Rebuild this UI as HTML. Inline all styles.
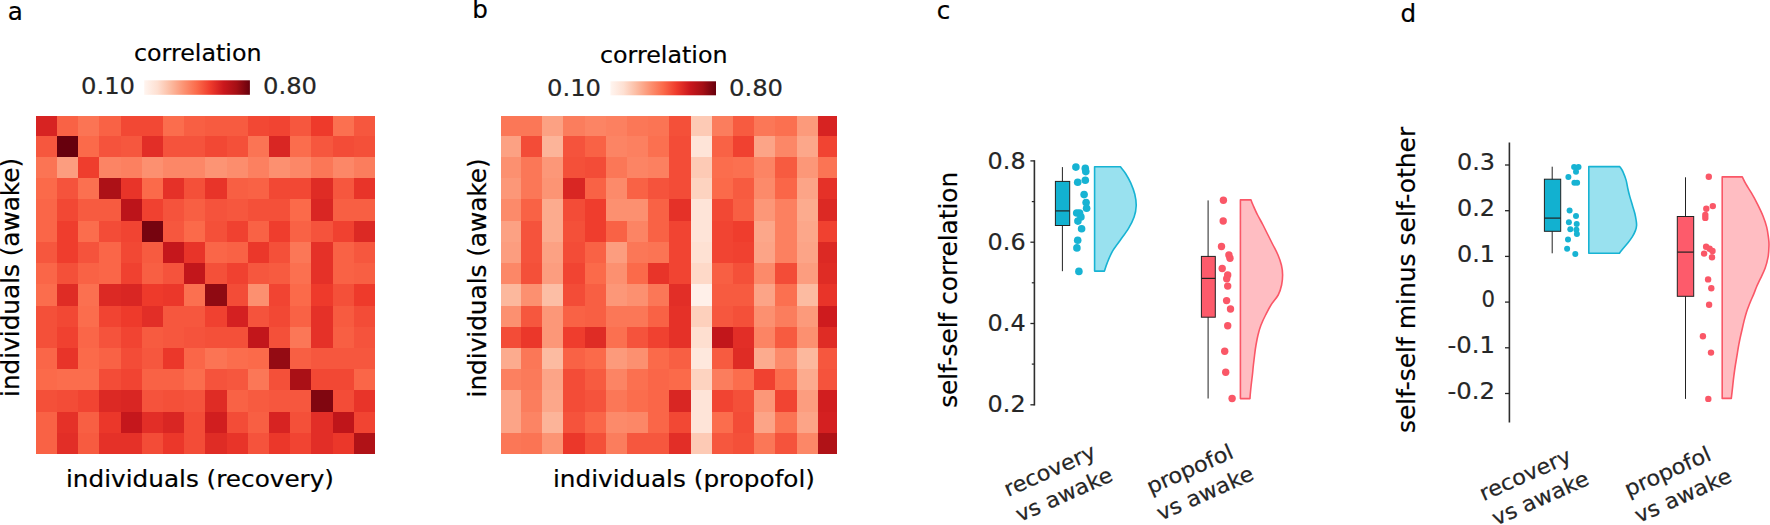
<!DOCTYPE html>
<html><head><meta charset="utf-8"><title>figure</title>
<style>html,body{margin:0;padding:0;background:#fff;overflow:hidden}svg{display:block}text{font-family:"DejaVu Sans","Liberation Sans",sans-serif}</style>
</head><body>
<svg width="1770" height="525" viewBox="0 0 1770 525">
<defs><linearGradient id="rg" x1="0" y1="0" x2="1" y2="0"><stop offset="0.0%" stop-color="#fff5f0"/><stop offset="12.5%" stop-color="#fee0d2"/><stop offset="25.0%" stop-color="#fcbba1"/><stop offset="37.5%" stop-color="#fc9272"/><stop offset="50.0%" stop-color="#fb6a4a"/><stop offset="62.5%" stop-color="#ef3b2c"/><stop offset="75.0%" stop-color="#cb181d"/><stop offset="87.5%" stop-color="#a50f15"/><stop offset="100.0%" stop-color="#67000d"/></linearGradient></defs>
<rect width="1770" height="525" fill="#fff"/>
<g shape-rendering="crispEdges"><rect x="36.00" y="116.00" width="21.30" height="20.11" fill="#d72322"/><rect x="57.00" y="116.00" width="21.50" height="20.11" fill="#f96245"/><rect x="78.20" y="116.00" width="21.50" height="20.11" fill="#fb7454"/><rect x="99.40" y="116.00" width="21.50" height="20.11" fill="#f96245"/><rect x="120.60" y="116.00" width="21.50" height="20.11" fill="#f24834"/><rect x="141.80" y="116.00" width="21.50" height="20.11" fill="#f24834"/><rect x="163.00" y="116.00" width="21.50" height="20.11" fill="#fb6d4d"/><rect x="184.20" y="116.00" width="21.50" height="20.11" fill="#f85f43"/><rect x="205.40" y="116.00" width="21.50" height="20.11" fill="#f75b40"/><rect x="226.60" y="116.00" width="21.50" height="20.11" fill="#f75b40"/><rect x="247.80" y="116.00" width="21.50" height="20.11" fill="#f24834"/><rect x="269.00" y="116.00" width="21.50" height="20.11" fill="#f14432"/><rect x="290.20" y="116.00" width="21.50" height="20.11" fill="#f6573e"/><rect x="311.40" y="116.00" width="21.50" height="20.11" fill="#ee3a2b"/><rect x="332.60" y="116.00" width="21.50" height="20.11" fill="#fb7050"/><rect x="353.80" y="116.00" width="21.20" height="20.11" fill="#f6573e"/><rect x="36.00" y="135.81" width="21.30" height="21.51" fill="#f6573e"/><rect x="57.00" y="135.81" width="21.50" height="21.51" fill="#67000d"/><rect x="78.20" y="135.81" width="21.50" height="21.51" fill="#fb6a4a"/><rect x="99.40" y="135.81" width="21.50" height="21.51" fill="#f5533c"/><rect x="120.60" y="135.81" width="21.50" height="21.51" fill="#f6573e"/><rect x="141.80" y="135.81" width="21.50" height="21.51" fill="#e22e27"/><rect x="163.00" y="135.81" width="21.50" height="21.51" fill="#f5533c"/><rect x="184.20" y="135.81" width="21.50" height="21.51" fill="#f5533c"/><rect x="205.40" y="135.81" width="21.50" height="21.51" fill="#f24834"/><rect x="226.60" y="135.81" width="21.50" height="21.51" fill="#f45039"/><rect x="247.80" y="135.81" width="21.50" height="21.51" fill="#fb7454"/><rect x="269.00" y="135.81" width="21.50" height="21.51" fill="#d92623"/><rect x="290.20" y="135.81" width="21.50" height="21.51" fill="#fb6d4d"/><rect x="311.40" y="135.81" width="21.50" height="21.51" fill="#f6573e"/><rect x="332.60" y="135.81" width="21.50" height="21.51" fill="#f34c37"/><rect x="353.80" y="135.81" width="21.20" height="21.51" fill="#f45039"/><rect x="36.00" y="157.02" width="21.30" height="21.51" fill="#fb7454"/><rect x="57.00" y="157.02" width="21.50" height="21.51" fill="#fc9d7f"/><rect x="78.20" y="157.02" width="21.50" height="21.51" fill="#ef3d2d"/><rect x="99.40" y="157.02" width="21.50" height="21.51" fill="#fc8464"/><rect x="120.60" y="157.02" width="21.50" height="21.51" fill="#fc8060"/><rect x="141.80" y="157.02" width="21.50" height="21.51" fill="#fc9070"/><rect x="163.00" y="157.02" width="21.50" height="21.51" fill="#fc8767"/><rect x="184.20" y="157.02" width="21.50" height="21.51" fill="#fc8767"/><rect x="205.40" y="157.02" width="21.50" height="21.51" fill="#fc9474"/><rect x="226.60" y="157.02" width="21.50" height="21.51" fill="#fc8d6d"/><rect x="247.80" y="157.02" width="21.50" height="21.51" fill="#fc8060"/><rect x="269.00" y="157.02" width="21.50" height="21.51" fill="#fc9070"/><rect x="290.20" y="157.02" width="21.50" height="21.51" fill="#fc8767"/><rect x="311.40" y="157.02" width="21.50" height="21.51" fill="#fb7757"/><rect x="332.60" y="157.02" width="21.50" height="21.51" fill="#fc8767"/><rect x="353.80" y="157.02" width="21.20" height="21.51" fill="#fb7d5d"/><rect x="36.00" y="178.24" width="21.30" height="21.51" fill="#fb6a4a"/><rect x="57.00" y="178.24" width="21.50" height="21.51" fill="#f5533c"/><rect x="78.20" y="178.24" width="21.50" height="21.51" fill="#fb7050"/><rect x="99.40" y="178.24" width="21.50" height="21.51" fill="#ad1117"/><rect x="120.60" y="178.24" width="21.50" height="21.51" fill="#e83429"/><rect x="141.80" y="178.24" width="21.50" height="21.51" fill="#fb6a4a"/><rect x="163.00" y="178.24" width="21.50" height="21.51" fill="#e53128"/><rect x="184.20" y="178.24" width="21.50" height="21.51" fill="#f45039"/><rect x="205.40" y="178.24" width="21.50" height="21.51" fill="#e83429"/><rect x="226.60" y="178.24" width="21.50" height="21.51" fill="#f85f43"/><rect x="247.80" y="178.24" width="21.50" height="21.51" fill="#f96245"/><rect x="269.00" y="178.24" width="21.50" height="21.51" fill="#f24834"/><rect x="290.20" y="178.24" width="21.50" height="21.51" fill="#f24834"/><rect x="311.40" y="178.24" width="21.50" height="21.51" fill="#df2c25"/><rect x="332.60" y="178.24" width="21.50" height="21.51" fill="#f6573e"/><rect x="353.80" y="178.24" width="21.20" height="21.51" fill="#e83429"/><rect x="36.00" y="199.45" width="21.30" height="21.51" fill="#fa6648"/><rect x="57.00" y="199.45" width="21.50" height="21.51" fill="#f24834"/><rect x="78.20" y="199.45" width="21.50" height="21.51" fill="#f75b40"/><rect x="99.40" y="199.45" width="21.50" height="21.51" fill="#f75b40"/><rect x="120.60" y="199.45" width="21.50" height="21.51" fill="#bc141a"/><rect x="141.80" y="199.45" width="21.50" height="21.51" fill="#f04130"/><rect x="163.00" y="199.45" width="21.50" height="21.51" fill="#f5533c"/><rect x="184.20" y="199.45" width="21.50" height="21.51" fill="#f85f43"/><rect x="205.40" y="199.45" width="21.50" height="21.51" fill="#f5533c"/><rect x="226.60" y="199.45" width="21.50" height="21.51" fill="#f6573e"/><rect x="247.80" y="199.45" width="21.50" height="21.51" fill="#f45039"/><rect x="269.00" y="199.45" width="21.50" height="21.51" fill="#f45039"/><rect x="290.20" y="199.45" width="21.50" height="21.51" fill="#fb6a4a"/><rect x="311.40" y="199.45" width="21.50" height="21.51" fill="#d92623"/><rect x="332.60" y="199.45" width="21.50" height="21.51" fill="#f85f43"/><rect x="353.80" y="199.45" width="21.20" height="21.51" fill="#f85f43"/><rect x="36.00" y="220.66" width="21.30" height="21.51" fill="#fa6648"/><rect x="57.00" y="220.66" width="21.50" height="21.51" fill="#ef3d2d"/><rect x="78.20" y="220.66" width="21.50" height="21.51" fill="#fb6d4d"/><rect x="99.40" y="220.66" width="21.50" height="21.51" fill="#f34c37"/><rect x="120.60" y="220.66" width="21.50" height="21.51" fill="#f14432"/><rect x="141.80" y="220.66" width="21.50" height="21.51" fill="#76040f"/><rect x="163.00" y="220.66" width="21.50" height="21.51" fill="#f6573e"/><rect x="184.20" y="220.66" width="21.50" height="21.51" fill="#fb6a4a"/><rect x="205.40" y="220.66" width="21.50" height="21.51" fill="#f45039"/><rect x="226.60" y="220.66" width="21.50" height="21.51" fill="#f04130"/><rect x="247.80" y="220.66" width="21.50" height="21.51" fill="#f96245"/><rect x="269.00" y="220.66" width="21.50" height="21.51" fill="#ef3d2d"/><rect x="290.20" y="220.66" width="21.50" height="21.51" fill="#f96245"/><rect x="311.40" y="220.66" width="21.50" height="21.51" fill="#f5533c"/><rect x="332.60" y="220.66" width="21.50" height="21.51" fill="#f04130"/><rect x="353.80" y="220.66" width="21.20" height="21.51" fill="#dc2924"/><rect x="36.00" y="241.88" width="21.30" height="21.51" fill="#f6573e"/><rect x="57.00" y="241.88" width="21.50" height="21.51" fill="#ef3d2d"/><rect x="78.20" y="241.88" width="21.50" height="21.51" fill="#f5533c"/><rect x="99.40" y="241.88" width="21.50" height="21.51" fill="#fa6648"/><rect x="120.60" y="241.88" width="21.50" height="21.51" fill="#f24834"/><rect x="141.80" y="241.88" width="21.50" height="21.51" fill="#f75b40"/><rect x="163.00" y="241.88" width="21.50" height="21.51" fill="#c5171c"/><rect x="184.20" y="241.88" width="21.50" height="21.51" fill="#e83429"/><rect x="205.40" y="241.88" width="21.50" height="21.51" fill="#fa6648"/><rect x="226.60" y="241.88" width="21.50" height="21.51" fill="#f96245"/><rect x="247.80" y="241.88" width="21.50" height="21.51" fill="#eb372a"/><rect x="269.00" y="241.88" width="21.50" height="21.51" fill="#f45039"/><rect x="290.20" y="241.88" width="21.50" height="21.51" fill="#fb7757"/><rect x="311.40" y="241.88" width="21.50" height="21.51" fill="#e53128"/><rect x="332.60" y="241.88" width="21.50" height="21.51" fill="#f96245"/><rect x="353.80" y="241.88" width="21.20" height="21.51" fill="#f6573e"/><rect x="36.00" y="263.09" width="21.30" height="21.51" fill="#fa6648"/><rect x="57.00" y="263.09" width="21.50" height="21.51" fill="#f45039"/><rect x="78.20" y="263.09" width="21.50" height="21.51" fill="#f96245"/><rect x="99.40" y="263.09" width="21.50" height="21.51" fill="#fa6648"/><rect x="120.60" y="263.09" width="21.50" height="21.51" fill="#f04130"/><rect x="141.80" y="263.09" width="21.50" height="21.51" fill="#f85f43"/><rect x="163.00" y="263.09" width="21.50" height="21.51" fill="#f5533c"/><rect x="184.20" y="263.09" width="21.50" height="21.51" fill="#c2161b"/><rect x="205.40" y="263.09" width="21.50" height="21.51" fill="#f45039"/><rect x="226.60" y="263.09" width="21.50" height="21.51" fill="#f04130"/><rect x="247.80" y="263.09" width="21.50" height="21.51" fill="#f6573e"/><rect x="269.00" y="263.09" width="21.50" height="21.51" fill="#f75b40"/><rect x="290.20" y="263.09" width="21.50" height="21.51" fill="#fb7050"/><rect x="311.40" y="263.09" width="21.50" height="21.51" fill="#e53128"/><rect x="332.60" y="263.09" width="21.50" height="21.51" fill="#f96245"/><rect x="353.80" y="263.09" width="21.20" height="21.51" fill="#f85f43"/><rect x="36.00" y="284.30" width="21.30" height="21.51" fill="#fb6d4d"/><rect x="57.00" y="284.30" width="21.50" height="21.51" fill="#df2c25"/><rect x="78.20" y="284.30" width="21.50" height="21.51" fill="#fb7050"/><rect x="99.40" y="284.30" width="21.50" height="21.51" fill="#dc2924"/><rect x="120.60" y="284.30" width="21.50" height="21.51" fill="#d92623"/><rect x="141.80" y="284.30" width="21.50" height="21.51" fill="#ee3a2b"/><rect x="163.00" y="284.30" width="21.50" height="21.51" fill="#eb372a"/><rect x="184.20" y="284.30" width="21.50" height="21.51" fill="#fb7050"/><rect x="205.40" y="284.30" width="21.50" height="21.51" fill="#8f0a12"/><rect x="226.60" y="284.30" width="21.50" height="21.51" fill="#f34c37"/><rect x="247.80" y="284.30" width="21.50" height="21.51" fill="#fc9070"/><rect x="269.00" y="284.30" width="21.50" height="21.51" fill="#f14432"/><rect x="290.20" y="284.30" width="21.50" height="21.51" fill="#fb6a4a"/><rect x="311.40" y="284.30" width="21.50" height="21.51" fill="#ee3a2b"/><rect x="332.60" y="284.30" width="21.50" height="21.51" fill="#f45039"/><rect x="353.80" y="284.30" width="21.20" height="21.51" fill="#ee3a2b"/><rect x="36.00" y="305.51" width="21.30" height="21.51" fill="#f45039"/><rect x="57.00" y="305.51" width="21.50" height="21.51" fill="#f24834"/><rect x="78.20" y="305.51" width="21.50" height="21.51" fill="#fb6d4d"/><rect x="99.40" y="305.51" width="21.50" height="21.51" fill="#f14432"/><rect x="120.60" y="305.51" width="21.50" height="21.51" fill="#ee3a2b"/><rect x="141.80" y="305.51" width="21.50" height="21.51" fill="#e22e27"/><rect x="163.00" y="305.51" width="21.50" height="21.51" fill="#f6573e"/><rect x="184.20" y="305.51" width="21.50" height="21.51" fill="#f6573e"/><rect x="205.40" y="305.51" width="21.50" height="21.51" fill="#f04130"/><rect x="226.60" y="305.51" width="21.50" height="21.51" fill="#d42021"/><rect x="247.80" y="305.51" width="21.50" height="21.51" fill="#f5533c"/><rect x="269.00" y="305.51" width="21.50" height="21.51" fill="#f24834"/><rect x="290.20" y="305.51" width="21.50" height="21.51" fill="#f96245"/><rect x="311.40" y="305.51" width="21.50" height="21.51" fill="#e53128"/><rect x="332.60" y="305.51" width="21.50" height="21.51" fill="#f75b40"/><rect x="353.80" y="305.51" width="21.20" height="21.51" fill="#f34c37"/><rect x="36.00" y="326.73" width="21.30" height="21.51" fill="#f45039"/><rect x="57.00" y="326.73" width="21.50" height="21.51" fill="#f04130"/><rect x="78.20" y="326.73" width="21.50" height="21.51" fill="#fa6648"/><rect x="99.40" y="326.73" width="21.50" height="21.51" fill="#f5533c"/><rect x="120.60" y="326.73" width="21.50" height="21.51" fill="#f14432"/><rect x="141.80" y="326.73" width="21.50" height="21.51" fill="#f75b40"/><rect x="163.00" y="326.73" width="21.50" height="21.51" fill="#f6573e"/><rect x="184.20" y="326.73" width="21.50" height="21.51" fill="#f5533c"/><rect x="205.40" y="326.73" width="21.50" height="21.51" fill="#f45039"/><rect x="226.60" y="326.73" width="21.50" height="21.51" fill="#f45039"/><rect x="247.80" y="326.73" width="21.50" height="21.51" fill="#c2161b"/><rect x="269.00" y="326.73" width="21.50" height="21.51" fill="#f45039"/><rect x="290.20" y="326.73" width="21.50" height="21.51" fill="#fb7757"/><rect x="311.40" y="326.73" width="21.50" height="21.51" fill="#e53128"/><rect x="332.60" y="326.73" width="21.50" height="21.51" fill="#f85f43"/><rect x="353.80" y="326.73" width="21.20" height="21.51" fill="#f5533c"/><rect x="36.00" y="347.94" width="21.30" height="21.51" fill="#fa6648"/><rect x="57.00" y="347.94" width="21.50" height="21.51" fill="#e83429"/><rect x="78.20" y="347.94" width="21.50" height="21.51" fill="#fb6a4a"/><rect x="99.40" y="347.94" width="21.50" height="21.51" fill="#f96245"/><rect x="120.60" y="347.94" width="21.50" height="21.51" fill="#f34c37"/><rect x="141.80" y="347.94" width="21.50" height="21.51" fill="#f6573e"/><rect x="163.00" y="347.94" width="21.50" height="21.51" fill="#eb372a"/><rect x="184.20" y="347.94" width="21.50" height="21.51" fill="#fa6648"/><rect x="205.40" y="347.94" width="21.50" height="21.51" fill="#fb7454"/><rect x="226.60" y="347.94" width="21.50" height="21.51" fill="#fb6d4d"/><rect x="247.80" y="347.94" width="21.50" height="21.51" fill="#fb6a4a"/><rect x="269.00" y="347.94" width="21.50" height="21.51" fill="#940b13"/><rect x="290.20" y="347.94" width="21.50" height="21.51" fill="#f85f43"/><rect x="311.40" y="347.94" width="21.50" height="21.51" fill="#f6573e"/><rect x="332.60" y="347.94" width="21.50" height="21.51" fill="#f6573e"/><rect x="353.80" y="347.94" width="21.20" height="21.51" fill="#f6573e"/><rect x="36.00" y="369.15" width="21.30" height="21.51" fill="#fb6a4a"/><rect x="57.00" y="369.15" width="21.50" height="21.51" fill="#fb6d4d"/><rect x="78.20" y="369.15" width="21.50" height="21.51" fill="#fb6d4d"/><rect x="99.40" y="369.15" width="21.50" height="21.51" fill="#f34c37"/><rect x="120.60" y="369.15" width="21.50" height="21.51" fill="#f14432"/><rect x="141.80" y="369.15" width="21.50" height="21.51" fill="#f96245"/><rect x="163.00" y="369.15" width="21.50" height="21.51" fill="#f96245"/><rect x="184.20" y="369.15" width="21.50" height="21.51" fill="#fb6d4d"/><rect x="205.40" y="369.15" width="21.50" height="21.51" fill="#f5533c"/><rect x="226.60" y="369.15" width="21.50" height="21.51" fill="#f6573e"/><rect x="247.80" y="369.15" width="21.50" height="21.51" fill="#fb7757"/><rect x="269.00" y="369.15" width="21.50" height="21.51" fill="#f45039"/><rect x="290.20" y="369.15" width="21.50" height="21.51" fill="#aa1016"/><rect x="311.40" y="369.15" width="21.50" height="21.51" fill="#f24834"/><rect x="332.60" y="369.15" width="21.50" height="21.51" fill="#f24834"/><rect x="353.80" y="369.15" width="21.20" height="21.51" fill="#fa6648"/><rect x="36.00" y="390.36" width="21.30" height="21.51" fill="#f45039"/><rect x="57.00" y="390.36" width="21.50" height="21.51" fill="#f34c37"/><rect x="78.20" y="390.36" width="21.50" height="21.51" fill="#f14432"/><rect x="99.40" y="390.36" width="21.50" height="21.51" fill="#dc2924"/><rect x="120.60" y="390.36" width="21.50" height="21.51" fill="#d92623"/><rect x="141.80" y="390.36" width="21.50" height="21.51" fill="#f5533c"/><rect x="163.00" y="390.36" width="21.50" height="21.51" fill="#f45039"/><rect x="184.20" y="390.36" width="21.50" height="21.51" fill="#f5533c"/><rect x="205.40" y="390.36" width="21.50" height="21.51" fill="#df2c25"/><rect x="226.60" y="390.36" width="21.50" height="21.51" fill="#f96245"/><rect x="247.80" y="390.36" width="21.50" height="21.51" fill="#f75b40"/><rect x="269.00" y="390.36" width="21.50" height="21.51" fill="#f6573e"/><rect x="290.20" y="390.36" width="21.50" height="21.51" fill="#f6573e"/><rect x="311.40" y="390.36" width="21.50" height="21.51" fill="#800610"/><rect x="332.60" y="390.36" width="21.50" height="21.51" fill="#f34c37"/><rect x="353.80" y="390.36" width="21.20" height="21.51" fill="#e83429"/><rect x="36.00" y="411.57" width="21.30" height="21.51" fill="#f96245"/><rect x="57.00" y="411.57" width="21.50" height="21.51" fill="#e53128"/><rect x="78.20" y="411.57" width="21.50" height="21.51" fill="#f85f43"/><rect x="99.40" y="411.57" width="21.50" height="21.51" fill="#eb372a"/><rect x="120.60" y="411.57" width="21.50" height="21.51" fill="#c5171c"/><rect x="141.80" y="411.57" width="21.50" height="21.51" fill="#e22e27"/><rect x="163.00" y="411.57" width="21.50" height="21.51" fill="#d92623"/><rect x="184.20" y="411.57" width="21.50" height="21.51" fill="#f34c37"/><rect x="205.40" y="411.57" width="21.50" height="21.51" fill="#d11e1f"/><rect x="226.60" y="411.57" width="21.50" height="21.51" fill="#f34c37"/><rect x="247.80" y="411.57" width="21.50" height="21.51" fill="#f85f43"/><rect x="269.00" y="411.57" width="21.50" height="21.51" fill="#d72322"/><rect x="290.20" y="411.57" width="21.50" height="21.51" fill="#f45039"/><rect x="311.40" y="411.57" width="21.50" height="21.51" fill="#e22e27"/><rect x="332.60" y="411.57" width="21.50" height="21.51" fill="#bf151a"/><rect x="353.80" y="411.57" width="21.20" height="21.51" fill="#f14432"/><rect x="36.00" y="432.79" width="21.30" height="21.21" fill="#f96245"/><rect x="57.00" y="432.79" width="21.50" height="21.21" fill="#e22e27"/><rect x="78.20" y="432.79" width="21.50" height="21.21" fill="#f75b40"/><rect x="99.40" y="432.79" width="21.50" height="21.21" fill="#e53128"/><rect x="120.60" y="432.79" width="21.50" height="21.21" fill="#e53128"/><rect x="141.80" y="432.79" width="21.50" height="21.21" fill="#f34c37"/><rect x="163.00" y="432.79" width="21.50" height="21.21" fill="#eb372a"/><rect x="184.20" y="432.79" width="21.50" height="21.21" fill="#f34c37"/><rect x="205.40" y="432.79" width="21.50" height="21.21" fill="#df2c25"/><rect x="226.60" y="432.79" width="21.50" height="21.21" fill="#e83429"/><rect x="247.80" y="432.79" width="21.50" height="21.21" fill="#f5533c"/><rect x="269.00" y="432.79" width="21.50" height="21.21" fill="#eb372a"/><rect x="290.20" y="432.79" width="21.50" height="21.21" fill="#f14432"/><rect x="311.40" y="432.79" width="21.50" height="21.21" fill="#e22e27"/><rect x="332.60" y="432.79" width="21.50" height="21.21" fill="#eb372a"/><rect x="353.80" y="432.79" width="21.20" height="21.21" fill="#b01217"/></g>
<g shape-rendering="crispEdges"><rect x="501.00" y="116.00" width="20.20" height="20.11" fill="#fb7757"/><rect x="520.90" y="116.00" width="21.50" height="20.11" fill="#fb7757"/><rect x="542.10" y="116.00" width="21.50" height="20.11" fill="#fca183"/><rect x="563.30" y="116.00" width="21.50" height="20.11" fill="#fb7d5d"/><rect x="584.50" y="116.00" width="21.50" height="20.11" fill="#fc8464"/><rect x="605.70" y="116.00" width="21.50" height="20.11" fill="#fc8060"/><rect x="626.90" y="116.00" width="21.50" height="20.11" fill="#fb7757"/><rect x="648.10" y="116.00" width="21.50" height="20.11" fill="#fb7454"/><rect x="669.30" y="116.00" width="21.50" height="20.11" fill="#f45039"/><rect x="690.50" y="116.00" width="21.50" height="20.11" fill="#fdcab5"/><rect x="711.70" y="116.00" width="21.50" height="20.11" fill="#fb7d5d"/><rect x="732.90" y="116.00" width="21.50" height="20.11" fill="#f75b40"/><rect x="754.10" y="116.00" width="21.50" height="20.11" fill="#fb7757"/><rect x="775.30" y="116.00" width="21.50" height="20.11" fill="#fb7050"/><rect x="796.50" y="116.00" width="21.50" height="20.11" fill="#fc9a7b"/><rect x="817.70" y="116.00" width="19.30" height="20.11" fill="#d72322"/><rect x="501.00" y="135.81" width="20.20" height="21.51" fill="#fca183"/><rect x="520.90" y="135.81" width="21.50" height="21.51" fill="#f34c37"/><rect x="542.10" y="135.81" width="21.50" height="21.51" fill="#fcb499"/><rect x="563.30" y="135.81" width="21.50" height="21.51" fill="#f5533c"/><rect x="584.50" y="135.81" width="21.50" height="21.51" fill="#f96245"/><rect x="605.70" y="135.81" width="21.50" height="21.51" fill="#fc8464"/><rect x="626.90" y="135.81" width="21.50" height="21.51" fill="#fc8060"/><rect x="648.10" y="135.81" width="21.50" height="21.51" fill="#fb7050"/><rect x="669.30" y="135.81" width="21.50" height="21.51" fill="#f34c37"/><rect x="690.50" y="135.81" width="21.50" height="21.51" fill="#fee4d8"/><rect x="711.70" y="135.81" width="21.50" height="21.51" fill="#f96245"/><rect x="732.90" y="135.81" width="21.50" height="21.51" fill="#f04130"/><rect x="754.10" y="135.81" width="21.50" height="21.51" fill="#fca487"/><rect x="775.30" y="135.81" width="21.50" height="21.51" fill="#fc8767"/><rect x="796.50" y="135.81" width="21.50" height="21.51" fill="#fca78a"/><rect x="817.70" y="135.81" width="19.30" height="21.51" fill="#f14432"/><rect x="501.00" y="157.02" width="20.20" height="21.51" fill="#fc9070"/><rect x="520.90" y="157.02" width="21.50" height="21.51" fill="#fb7757"/><rect x="542.10" y="157.02" width="21.50" height="21.51" fill="#fc9778"/><rect x="563.30" y="157.02" width="21.50" height="21.51" fill="#f45039"/><rect x="584.50" y="157.02" width="21.50" height="21.51" fill="#f34c37"/><rect x="605.70" y="157.02" width="21.50" height="21.51" fill="#fb7757"/><rect x="626.90" y="157.02" width="21.50" height="21.51" fill="#fc8464"/><rect x="648.10" y="157.02" width="21.50" height="21.51" fill="#fc8060"/><rect x="669.30" y="157.02" width="21.50" height="21.51" fill="#f34c37"/><rect x="690.50" y="157.02" width="21.50" height="21.51" fill="#fdcab5"/><rect x="711.70" y="157.02" width="21.50" height="21.51" fill="#fb6d4d"/><rect x="732.90" y="157.02" width="21.50" height="21.51" fill="#fb7050"/><rect x="754.10" y="157.02" width="21.50" height="21.51" fill="#fc8464"/><rect x="775.30" y="157.02" width="21.50" height="21.51" fill="#f75b40"/><rect x="796.50" y="157.02" width="21.50" height="21.51" fill="#fc9778"/><rect x="817.70" y="157.02" width="19.30" height="21.51" fill="#fb7454"/><rect x="501.00" y="178.24" width="20.20" height="21.51" fill="#fc9778"/><rect x="520.90" y="178.24" width="21.50" height="21.51" fill="#fb7757"/><rect x="542.10" y="178.24" width="21.50" height="21.51" fill="#fc9474"/><rect x="563.30" y="178.24" width="21.50" height="21.51" fill="#d92623"/><rect x="584.50" y="178.24" width="21.50" height="21.51" fill="#f96245"/><rect x="605.70" y="178.24" width="21.50" height="21.51" fill="#fc8a6a"/><rect x="626.90" y="178.24" width="21.50" height="21.51" fill="#f96245"/><rect x="648.10" y="178.24" width="21.50" height="21.51" fill="#f5533c"/><rect x="669.30" y="178.24" width="21.50" height="21.51" fill="#f34c37"/><rect x="690.50" y="178.24" width="21.50" height="21.51" fill="#fdd3c0"/><rect x="711.70" y="178.24" width="21.50" height="21.51" fill="#fb6a4a"/><rect x="732.90" y="178.24" width="21.50" height="21.51" fill="#f75b40"/><rect x="754.10" y="178.24" width="21.50" height="21.51" fill="#fc8a6a"/><rect x="775.30" y="178.24" width="21.50" height="21.51" fill="#fa6648"/><rect x="796.50" y="178.24" width="21.50" height="21.51" fill="#fca487"/><rect x="817.70" y="178.24" width="19.30" height="21.51" fill="#e53128"/><rect x="501.00" y="199.45" width="20.20" height="21.51" fill="#fc8a6a"/><rect x="520.90" y="199.45" width="21.50" height="21.51" fill="#f96245"/><rect x="542.10" y="199.45" width="21.50" height="21.51" fill="#fcab8e"/><rect x="563.30" y="199.45" width="21.50" height="21.51" fill="#f34c37"/><rect x="584.50" y="199.45" width="21.50" height="21.51" fill="#ef3d2d"/><rect x="605.70" y="199.45" width="21.50" height="21.51" fill="#fc9070"/><rect x="626.90" y="199.45" width="21.50" height="21.51" fill="#fc9070"/><rect x="648.10" y="199.45" width="21.50" height="21.51" fill="#f96245"/><rect x="669.30" y="199.45" width="21.50" height="21.51" fill="#e53128"/><rect x="690.50" y="199.45" width="21.50" height="21.51" fill="#fee4d8"/><rect x="711.70" y="199.45" width="21.50" height="21.51" fill="#f24834"/><rect x="732.90" y="199.45" width="21.50" height="21.51" fill="#f85f43"/><rect x="754.10" y="199.45" width="21.50" height="21.51" fill="#fc9778"/><rect x="775.30" y="199.45" width="21.50" height="21.51" fill="#fc8060"/><rect x="796.50" y="199.45" width="21.50" height="21.51" fill="#fcab8e"/><rect x="817.70" y="199.45" width="19.30" height="21.51" fill="#dc2924"/><rect x="501.00" y="220.66" width="20.20" height="21.51" fill="#fca183"/><rect x="520.90" y="220.66" width="21.50" height="21.51" fill="#f5533c"/><rect x="542.10" y="220.66" width="21.50" height="21.51" fill="#fcab8e"/><rect x="563.30" y="220.66" width="21.50" height="21.51" fill="#f45039"/><rect x="584.50" y="220.66" width="21.50" height="21.51" fill="#ef3d2d"/><rect x="605.70" y="220.66" width="21.50" height="21.51" fill="#f96245"/><rect x="626.90" y="220.66" width="21.50" height="21.51" fill="#fc8464"/><rect x="648.10" y="220.66" width="21.50" height="21.51" fill="#f96245"/><rect x="669.30" y="220.66" width="21.50" height="21.51" fill="#f14432"/><rect x="690.50" y="220.66" width="21.50" height="21.51" fill="#fee4d8"/><rect x="711.70" y="220.66" width="21.50" height="21.51" fill="#f14432"/><rect x="732.90" y="220.66" width="21.50" height="21.51" fill="#ef3d2d"/><rect x="754.10" y="220.66" width="21.50" height="21.51" fill="#fca78a"/><rect x="775.30" y="220.66" width="21.50" height="21.51" fill="#fc8060"/><rect x="796.50" y="220.66" width="21.50" height="21.51" fill="#fca78a"/><rect x="817.70" y="220.66" width="19.30" height="21.51" fill="#f04130"/><rect x="501.00" y="241.88" width="20.20" height="21.51" fill="#fc9d7f"/><rect x="520.90" y="241.88" width="21.50" height="21.51" fill="#f5533c"/><rect x="542.10" y="241.88" width="21.50" height="21.51" fill="#fca183"/><rect x="563.30" y="241.88" width="21.50" height="21.51" fill="#f34c37"/><rect x="584.50" y="241.88" width="21.50" height="21.51" fill="#f96245"/><rect x="605.70" y="241.88" width="21.50" height="21.51" fill="#fc9d7f"/><rect x="626.90" y="241.88" width="21.50" height="21.51" fill="#fb7757"/><rect x="648.10" y="241.88" width="21.50" height="21.51" fill="#fb7454"/><rect x="669.30" y="241.88" width="21.50" height="21.51" fill="#f14432"/><rect x="690.50" y="241.88" width="21.50" height="21.51" fill="#fee1d3"/><rect x="711.70" y="241.88" width="21.50" height="21.51" fill="#f14432"/><rect x="732.90" y="241.88" width="21.50" height="21.51" fill="#f04130"/><rect x="754.10" y="241.88" width="21.50" height="21.51" fill="#fca487"/><rect x="775.30" y="241.88" width="21.50" height="21.51" fill="#fc8060"/><rect x="796.50" y="241.88" width="21.50" height="21.51" fill="#fca487"/><rect x="817.70" y="241.88" width="19.30" height="21.51" fill="#dc2924"/><rect x="501.00" y="263.09" width="20.20" height="21.51" fill="#fc8767"/><rect x="520.90" y="263.09" width="21.50" height="21.51" fill="#f45039"/><rect x="542.10" y="263.09" width="21.50" height="21.51" fill="#fc9d7f"/><rect x="563.30" y="263.09" width="21.50" height="21.51" fill="#f14432"/><rect x="584.50" y="263.09" width="21.50" height="21.51" fill="#fb6a4a"/><rect x="605.70" y="263.09" width="21.50" height="21.51" fill="#fc9070"/><rect x="626.90" y="263.09" width="21.50" height="21.51" fill="#fb6a4a"/><rect x="648.10" y="263.09" width="21.50" height="21.51" fill="#e83429"/><rect x="669.30" y="263.09" width="21.50" height="21.51" fill="#f14432"/><rect x="690.50" y="263.09" width="21.50" height="21.51" fill="#fed9c8"/><rect x="711.70" y="263.09" width="21.50" height="21.51" fill="#f85f43"/><rect x="732.90" y="263.09" width="21.50" height="21.51" fill="#f45039"/><rect x="754.10" y="263.09" width="21.50" height="21.51" fill="#fc8a6a"/><rect x="775.30" y="263.09" width="21.50" height="21.51" fill="#f34c37"/><rect x="796.50" y="263.09" width="21.50" height="21.51" fill="#fc9d7f"/><rect x="817.70" y="263.09" width="19.30" height="21.51" fill="#df2c25"/><rect x="501.00" y="284.30" width="20.20" height="21.51" fill="#fcb89d"/><rect x="520.90" y="284.30" width="21.50" height="21.51" fill="#fc9070"/><rect x="542.10" y="284.30" width="21.50" height="21.51" fill="#fcbea5"/><rect x="563.30" y="284.30" width="21.50" height="21.51" fill="#f34c37"/><rect x="584.50" y="284.30" width="21.50" height="21.51" fill="#f85f43"/><rect x="605.70" y="284.30" width="21.50" height="21.51" fill="#fc9778"/><rect x="626.90" y="284.30" width="21.50" height="21.51" fill="#fc9070"/><rect x="648.10" y="284.30" width="21.50" height="21.51" fill="#fb7757"/><rect x="669.30" y="284.30" width="21.50" height="21.51" fill="#e22e27"/><rect x="690.50" y="284.30" width="21.50" height="21.51" fill="#fff0e9"/><rect x="711.70" y="284.30" width="21.50" height="21.51" fill="#f75b40"/><rect x="732.90" y="284.30" width="21.50" height="21.51" fill="#f75b40"/><rect x="754.10" y="284.30" width="21.50" height="21.51" fill="#fca487"/><rect x="775.30" y="284.30" width="21.50" height="21.51" fill="#fb7050"/><rect x="796.50" y="284.30" width="21.50" height="21.51" fill="#fcbba1"/><rect x="817.70" y="284.30" width="19.30" height="21.51" fill="#e83429"/><rect x="501.00" y="305.51" width="20.20" height="21.51" fill="#fc9070"/><rect x="520.90" y="305.51" width="21.50" height="21.51" fill="#f6573e"/><rect x="542.10" y="305.51" width="21.50" height="21.51" fill="#fc9778"/><rect x="563.30" y="305.51" width="21.50" height="21.51" fill="#f96245"/><rect x="584.50" y="305.51" width="21.50" height="21.51" fill="#f85f43"/><rect x="605.70" y="305.51" width="21.50" height="21.51" fill="#fb7757"/><rect x="626.90" y="305.51" width="21.50" height="21.51" fill="#fb7757"/><rect x="648.10" y="305.51" width="21.50" height="21.51" fill="#f96245"/><rect x="669.30" y="305.51" width="21.50" height="21.51" fill="#e53128"/><rect x="690.50" y="305.51" width="21.50" height="21.51" fill="#fdd0bc"/><rect x="711.70" y="305.51" width="21.50" height="21.51" fill="#f6573e"/><rect x="732.90" y="305.51" width="21.50" height="21.51" fill="#f45039"/><rect x="754.10" y="305.51" width="21.50" height="21.51" fill="#fc9070"/><rect x="775.30" y="305.51" width="21.50" height="21.51" fill="#fb7d5d"/><rect x="796.50" y="305.51" width="21.50" height="21.51" fill="#fc9a7b"/><rect x="817.70" y="305.51" width="19.30" height="21.51" fill="#ce1b1e"/><rect x="501.00" y="326.73" width="20.20" height="21.51" fill="#f34c37"/><rect x="520.90" y="326.73" width="21.50" height="21.51" fill="#eb372a"/><rect x="542.10" y="326.73" width="21.50" height="21.51" fill="#fc9778"/><rect x="563.30" y="326.73" width="21.50" height="21.51" fill="#ef3d2d"/><rect x="584.50" y="326.73" width="21.50" height="21.51" fill="#df2c25"/><rect x="605.70" y="326.73" width="21.50" height="21.51" fill="#fb7050"/><rect x="626.90" y="326.73" width="21.50" height="21.51" fill="#f5533c"/><rect x="648.10" y="326.73" width="21.50" height="21.51" fill="#f04130"/><rect x="669.30" y="326.73" width="21.50" height="21.51" fill="#e53128"/><rect x="690.50" y="326.73" width="21.50" height="21.51" fill="#fedfd0"/><rect x="711.70" y="326.73" width="21.50" height="21.51" fill="#c2161b"/><rect x="732.90" y="326.73" width="21.50" height="21.51" fill="#e22e27"/><rect x="754.10" y="326.73" width="21.50" height="21.51" fill="#fc8464"/><rect x="775.30" y="326.73" width="21.50" height="21.51" fill="#f75b40"/><rect x="796.50" y="326.73" width="21.50" height="21.51" fill="#fc9070"/><rect x="817.70" y="326.73" width="19.30" height="21.51" fill="#df2c25"/><rect x="501.00" y="347.94" width="20.20" height="21.51" fill="#fcab8e"/><rect x="520.90" y="347.94" width="21.50" height="21.51" fill="#fb7757"/><rect x="542.10" y="347.94" width="21.50" height="21.51" fill="#fcbba1"/><rect x="563.30" y="347.94" width="21.50" height="21.51" fill="#f96245"/><rect x="584.50" y="347.94" width="21.50" height="21.51" fill="#fb6a4a"/><rect x="605.70" y="347.94" width="21.50" height="21.51" fill="#fc9a7b"/><rect x="626.90" y="347.94" width="21.50" height="21.51" fill="#fc9070"/><rect x="648.10" y="347.94" width="21.50" height="21.51" fill="#fb6a4a"/><rect x="669.30" y="347.94" width="21.50" height="21.51" fill="#f85f43"/><rect x="690.50" y="347.94" width="21.50" height="21.51" fill="#fee8dd"/><rect x="711.70" y="347.94" width="21.50" height="21.51" fill="#f75b40"/><rect x="732.90" y="347.94" width="21.50" height="21.51" fill="#df2c25"/><rect x="754.10" y="347.94" width="21.50" height="21.51" fill="#fcab8e"/><rect x="775.30" y="347.94" width="21.50" height="21.51" fill="#fc8a6a"/><rect x="796.50" y="347.94" width="21.50" height="21.51" fill="#fcb89d"/><rect x="817.70" y="347.94" width="19.30" height="21.51" fill="#f6573e"/><rect x="501.00" y="369.15" width="20.20" height="21.51" fill="#fc8060"/><rect x="520.90" y="369.15" width="21.50" height="21.51" fill="#fb7a5a"/><rect x="542.10" y="369.15" width="21.50" height="21.51" fill="#fca487"/><rect x="563.30" y="369.15" width="21.50" height="21.51" fill="#f34c37"/><rect x="584.50" y="369.15" width="21.50" height="21.51" fill="#f75b40"/><rect x="605.70" y="369.15" width="21.50" height="21.51" fill="#fc8464"/><rect x="626.90" y="369.15" width="21.50" height="21.51" fill="#fb7050"/><rect x="648.10" y="369.15" width="21.50" height="21.51" fill="#fa6648"/><rect x="669.30" y="369.15" width="21.50" height="21.51" fill="#fb6a4a"/><rect x="690.50" y="369.15" width="21.50" height="21.51" fill="#fdd3c0"/><rect x="711.70" y="369.15" width="21.50" height="21.51" fill="#fb7d5d"/><rect x="732.90" y="369.15" width="21.50" height="21.51" fill="#fb6d4d"/><rect x="754.10" y="369.15" width="21.50" height="21.51" fill="#f04130"/><rect x="775.30" y="369.15" width="21.50" height="21.51" fill="#fb6d4d"/><rect x="796.50" y="369.15" width="21.50" height="21.51" fill="#fcab8e"/><rect x="817.70" y="369.15" width="19.30" height="21.51" fill="#f5533c"/><rect x="501.00" y="390.36" width="20.20" height="21.51" fill="#fca487"/><rect x="520.90" y="390.36" width="21.50" height="21.51" fill="#fb7d5d"/><rect x="542.10" y="390.36" width="21.50" height="21.51" fill="#fca78a"/><rect x="563.30" y="390.36" width="21.50" height="21.51" fill="#f34c37"/><rect x="584.50" y="390.36" width="21.50" height="21.51" fill="#f5533c"/><rect x="605.70" y="390.36" width="21.50" height="21.51" fill="#fb7757"/><rect x="626.90" y="390.36" width="21.50" height="21.51" fill="#fb6d4d"/><rect x="648.10" y="390.36" width="21.50" height="21.51" fill="#fa6648"/><rect x="669.30" y="390.36" width="21.50" height="21.51" fill="#d92623"/><rect x="690.50" y="390.36" width="21.50" height="21.51" fill="#fee4d8"/><rect x="711.70" y="390.36" width="21.50" height="21.51" fill="#f14432"/><rect x="732.90" y="390.36" width="21.50" height="21.51" fill="#f45039"/><rect x="754.10" y="390.36" width="21.50" height="21.51" fill="#fc9778"/><rect x="775.30" y="390.36" width="21.50" height="21.51" fill="#f14432"/><rect x="796.50" y="390.36" width="21.50" height="21.51" fill="#fc9d7f"/><rect x="817.70" y="390.36" width="19.30" height="21.51" fill="#d11e1f"/><rect x="501.00" y="411.57" width="20.20" height="21.51" fill="#fca487"/><rect x="520.90" y="411.57" width="21.50" height="21.51" fill="#fc8464"/><rect x="542.10" y="411.57" width="21.50" height="21.51" fill="#fcb499"/><rect x="563.30" y="411.57" width="21.50" height="21.51" fill="#f5533c"/><rect x="584.50" y="411.57" width="21.50" height="21.51" fill="#fa6648"/><rect x="605.70" y="411.57" width="21.50" height="21.51" fill="#fc8a6a"/><rect x="626.90" y="411.57" width="21.50" height="21.51" fill="#fc8767"/><rect x="648.10" y="411.57" width="21.50" height="21.51" fill="#fa6648"/><rect x="669.30" y="411.57" width="21.50" height="21.51" fill="#f24834"/><rect x="690.50" y="411.57" width="21.50" height="21.51" fill="#fee4d8"/><rect x="711.70" y="411.57" width="21.50" height="21.51" fill="#fb6d4d"/><rect x="732.90" y="411.57" width="21.50" height="21.51" fill="#f34c37"/><rect x="754.10" y="411.57" width="21.50" height="21.51" fill="#fca487"/><rect x="775.30" y="411.57" width="21.50" height="21.51" fill="#fb7454"/><rect x="796.50" y="411.57" width="21.50" height="21.51" fill="#fca487"/><rect x="817.70" y="411.57" width="19.30" height="21.51" fill="#d42021"/><rect x="501.00" y="432.79" width="20.20" height="21.21" fill="#fb7757"/><rect x="520.90" y="432.79" width="21.50" height="21.21" fill="#fb7454"/><rect x="542.10" y="432.79" width="21.50" height="21.21" fill="#fc9474"/><rect x="563.30" y="432.79" width="21.50" height="21.21" fill="#eb372a"/><rect x="584.50" y="432.79" width="21.50" height="21.21" fill="#f45039"/><rect x="605.70" y="432.79" width="21.50" height="21.21" fill="#fb7d5d"/><rect x="626.90" y="432.79" width="21.50" height="21.21" fill="#f6573e"/><rect x="648.10" y="432.79" width="21.50" height="21.21" fill="#f6573e"/><rect x="669.30" y="432.79" width="21.50" height="21.21" fill="#e22e27"/><rect x="690.50" y="432.79" width="21.50" height="21.21" fill="#fdcab5"/><rect x="711.70" y="432.79" width="21.50" height="21.21" fill="#f6573e"/><rect x="732.90" y="432.79" width="21.50" height="21.21" fill="#f45039"/><rect x="754.10" y="432.79" width="21.50" height="21.21" fill="#fb7757"/><rect x="775.30" y="432.79" width="21.50" height="21.21" fill="#f5533c"/><rect x="796.50" y="432.79" width="21.50" height="21.21" fill="#fc8767"/><rect x="817.70" y="432.79" width="19.30" height="21.21" fill="#b01217"/></g>
<rect x="144.2" y="80.3" width="105.7" height="14.5" fill="url(#rg)"/>
<rect x="610.4" y="81.3" width="105.6" height="14" fill="url(#rg)"/>
<text x="7.8" y="19.9" font-size="24.6" fill="#000" stroke="#000" stroke-width="0.2" text-anchor="start" >a</text>
<text x="472.2" y="18.2" font-size="24.6" fill="#000" stroke="#000" stroke-width="0.2" text-anchor="start" >b</text>
<text x="936.8" y="18.9" font-size="24.6" fill="#000" stroke="#000" stroke-width="0.2" text-anchor="start" >c</text>
<text x="1400.6" y="22.3" font-size="24.6" fill="#000" stroke="#000" stroke-width="0.2" text-anchor="start" >d</text>
<text x="134.0" y="60.5" font-size="23.2" fill="#000" stroke="#000" stroke-width="0.2" text-anchor="start" textLength="127.5" lengthAdjust="spacingAndGlyphs" >correlation</text>
<text x="600.0" y="63.4" font-size="23.2" fill="#000" stroke="#000" stroke-width="0.2" text-anchor="start" textLength="127.5" lengthAdjust="spacingAndGlyphs" >correlation</text>
<text x="81.0" y="93.7" font-size="23.2" fill="#262626" stroke="#262626" stroke-width="0.2" text-anchor="start" textLength="54.0" lengthAdjust="spacingAndGlyphs" >0.10</text>
<text x="263.0" y="93.7" font-size="23.2" fill="#262626" stroke="#262626" stroke-width="0.2" text-anchor="start" textLength="54.0" lengthAdjust="spacingAndGlyphs" >0.80</text>
<text x="547.0" y="95.7" font-size="23.2" fill="#262626" stroke="#262626" stroke-width="0.2" text-anchor="start" textLength="54.0" lengthAdjust="spacingAndGlyphs" >0.10</text>
<text x="729.0" y="95.7" font-size="23.2" fill="#262626" stroke="#262626" stroke-width="0.2" text-anchor="start" textLength="54.0" lengthAdjust="spacingAndGlyphs" >0.80</text>
<text x="66.0" y="486.6" font-size="23.2" fill="#000" stroke="#000" stroke-width="0.2" text-anchor="start" textLength="268.0" lengthAdjust="spacingAndGlyphs" >individuals (recovery)</text>
<text x="553.0" y="486.6" font-size="23.2" fill="#000" stroke="#000" stroke-width="0.2" text-anchor="start" textLength="262.0" lengthAdjust="spacingAndGlyphs" >individuals (propofol)</text>
<g transform="translate(18.7,396.9) rotate(-90)"><text x="0.0" y="0.0" font-size="25.2" fill="#000" stroke="#000" stroke-width="0.2" text-anchor="start" textLength="239.0" lengthAdjust="spacingAndGlyphs" >individuals (awake)</text></g>
<g transform="translate(486.0,397.4) rotate(-90)"><text x="0.0" y="0.0" font-size="25.2" fill="#000" stroke="#000" stroke-width="0.2" text-anchor="start" textLength="239.0" lengthAdjust="spacingAndGlyphs" >individuals (awake)</text></g>
<g transform="translate(956.6,407.8) rotate(-90)"><text x="0.0" y="0.0" font-size="24.3" fill="#000" stroke="#000" stroke-width="0.2" text-anchor="start" textLength="236.0" lengthAdjust="spacingAndGlyphs" >self-self correlation</text></g>
<g transform="translate(1414.8,433) rotate(-90)"><text x="0.0" y="0.0" font-size="24.3" fill="#000" stroke="#000" stroke-width="0.2" text-anchor="start" textLength="306.2" lengthAdjust="spacingAndGlyphs" >self-self minus self-other</text></g>
<line x1="1034.4" y1="160.2" x2="1034.4" y2="405.5" stroke="#2e2e2e" stroke-width="1.6"/>
<line x1="1030.4" y1="160.9" x2="1034.4" y2="160.9" stroke="#262626" stroke-width="1.3"/>
<text x="1025.6" y="168.5" font-size="23.4" fill="#262626" stroke="#262626" stroke-width="0.2" text-anchor="end" textLength="38.0" lengthAdjust="spacingAndGlyphs" >0.8</text>
<line x1="1031.8" y1="201.6" x2="1034.4" y2="201.6" stroke="#262626" stroke-width="1.2"/>
<line x1="1030.4" y1="242.2" x2="1034.4" y2="242.2" stroke="#262626" stroke-width="1.3"/>
<text x="1025.6" y="249.8" font-size="23.4" fill="#262626" stroke="#262626" stroke-width="0.2" text-anchor="end" textLength="38.0" lengthAdjust="spacingAndGlyphs" >0.6</text>
<line x1="1031.8" y1="282.8" x2="1034.4" y2="282.8" stroke="#262626" stroke-width="1.2"/>
<line x1="1030.4" y1="323.5" x2="1034.4" y2="323.5" stroke="#262626" stroke-width="1.3"/>
<text x="1025.6" y="331.1" font-size="23.4" fill="#262626" stroke="#262626" stroke-width="0.2" text-anchor="end" textLength="38.0" lengthAdjust="spacingAndGlyphs" >0.4</text>
<line x1="1031.8" y1="364.1" x2="1034.4" y2="364.1" stroke="#262626" stroke-width="1.2"/>
<line x1="1030.4" y1="404.8" x2="1034.4" y2="404.8" stroke="#262626" stroke-width="1.3"/>
<text x="1025.6" y="412.4" font-size="23.4" fill="#262626" stroke="#262626" stroke-width="0.2" text-anchor="end" textLength="38.0" lengthAdjust="spacingAndGlyphs" >0.2</text>
<line x1="1509.4" y1="142.5" x2="1509.4" y2="422.5" stroke="#2e2e2e" stroke-width="1.6"/>
<line x1="1505" y1="165.0" x2="1509.4" y2="165.0" stroke="#262626" stroke-width="1.3"/>
<text x="1495.0" y="170.1" font-size="23.4" fill="#262626" stroke="#262626" stroke-width="0.2" text-anchor="end" textLength="38.0" lengthAdjust="spacingAndGlyphs" >0.3</text>
<line x1="1505" y1="210.7" x2="1509.4" y2="210.7" stroke="#262626" stroke-width="1.3"/>
<text x="1495.0" y="215.8" font-size="23.4" fill="#262626" stroke="#262626" stroke-width="0.2" text-anchor="end" textLength="38.0" lengthAdjust="spacingAndGlyphs" >0.2</text>
<line x1="1505" y1="256.4" x2="1509.4" y2="256.4" stroke="#262626" stroke-width="1.3"/>
<text x="1495.0" y="261.5" font-size="23.4" fill="#262626" stroke="#262626" stroke-width="0.2" text-anchor="end" textLength="38.0" lengthAdjust="spacingAndGlyphs" >0.1</text>
<line x1="1505" y1="302.1" x2="1509.4" y2="302.1" stroke="#262626" stroke-width="1.3"/>
<text x="1495.0" y="307.2" font-size="23.4" fill="#262626" stroke="#262626" stroke-width="0.2" text-anchor="end" textLength="13.5" lengthAdjust="spacingAndGlyphs" >0</text>
<line x1="1505" y1="347.8" x2="1509.4" y2="347.8" stroke="#262626" stroke-width="1.3"/>
<text x="1495.0" y="352.9" font-size="23.4" fill="#262626" stroke="#262626" stroke-width="0.2" text-anchor="end" textLength="47.5" lengthAdjust="spacingAndGlyphs" >-0.1</text>
<line x1="1505" y1="393.5" x2="1509.4" y2="393.5" stroke="#262626" stroke-width="1.3"/>
<text x="1495.0" y="398.6" font-size="23.4" fill="#262626" stroke="#262626" stroke-width="0.2" text-anchor="end" textLength="47.5" lengthAdjust="spacingAndGlyphs" >-0.2</text>
<line x1="1062.4" y1="167.1" x2="1062.4" y2="271.2" stroke="#222" stroke-width="1"/><rect x="1055.4" y="181.4" width="14.3" height="44.1" fill="#12b1d0" stroke="#222" stroke-width="1"/><line x1="1055.4" y1="210.9" x2="1069.7" y2="210.9" stroke="#222" stroke-width="1.2"/>
<circle cx="1075.9" cy="167.1" r="3.8" fill="#17b3d3"/><circle cx="1085.3" cy="168.4" r="3.8" fill="#17b3d3"/><circle cx="1085.8" cy="171.6" r="3.8" fill="#17b3d3"/><circle cx="1085.3" cy="180.3" r="3.8" fill="#17b3d3"/><circle cx="1077.7" cy="182.2" r="3.8" fill="#17b3d3"/><circle cx="1084.1" cy="194.6" r="3.8" fill="#17b3d3"/><circle cx="1086.1" cy="202.6" r="3.8" fill="#17b3d3"/><circle cx="1086.6" cy="208.2" r="3.8" fill="#17b3d3"/><circle cx="1076.7" cy="213.0" r="3.8" fill="#17b3d3"/><circle cx="1079.6" cy="213.0" r="3.8" fill="#17b3d3"/><circle cx="1080.9" cy="216.9" r="3.8" fill="#17b3d3"/><circle cx="1077.9" cy="221.1" r="3.8" fill="#17b3d3"/><circle cx="1081.6" cy="228.8" r="3.8" fill="#17b3d3"/><circle cx="1077.7" cy="240.2" r="3.8" fill="#17b3d3"/><circle cx="1076.9" cy="247.9" r="3.8" fill="#17b3d3"/><circle cx="1078.9" cy="271.4" r="3.8" fill="#17b3d3"/>
<path d="M1094.6 166.8 L1120.4 166.8 C1121.3 168.0 1124.0 171.0 1125.7 173.7 C1127.4 176.4 1129.2 179.5 1130.7 182.9 C1132.2 186.3 1133.9 190.5 1134.8 194.3 C1135.7 198.1 1136.3 201.9 1136.2 205.7 C1136.1 209.5 1135.4 213.3 1134.1 217.1 C1132.8 220.9 1130.7 224.8 1128.4 228.6 C1126.1 232.4 1123.1 236.2 1120.4 240.0 C1117.7 243.8 1114.6 247.6 1112.4 251.4 C1110.2 255.2 1108.5 259.6 1107.2 262.9 C1105.9 266.2 1104.9 269.7 1104.4 271.1 L1094.6 271.1 Z" fill="#99e1ef" stroke="#17b3d3" stroke-width="1.6" stroke-linejoin="round"/>
<line x1="1208.1" y1="200.4" x2="1208.1" y2="398.5" stroke="#222" stroke-width="1"/><rect x="1201.4" y="256.4" width="13.9" height="60.8" fill="#fd5b6b" stroke="#222" stroke-width="1"/><line x1="1201.4" y1="278.4" x2="1215.3" y2="278.4" stroke="#222" stroke-width="1.2"/>
<circle cx="1223.4" cy="200.2" r="3.7" fill="#fa5767"/><circle cx="1223.2" cy="221.0" r="3.7" fill="#fa5767"/><circle cx="1221.5" cy="246.5" r="3.7" fill="#fa5767"/><circle cx="1228.9" cy="254.9" r="3.7" fill="#fa5767"/><circle cx="1230.0" cy="258.3" r="3.7" fill="#fa5767"/><circle cx="1222.2" cy="268.5" r="3.7" fill="#fa5767"/><circle cx="1227.7" cy="274.9" r="3.7" fill="#fa5767"/><circle cx="1226.7" cy="278.7" r="3.7" fill="#fa5767"/><circle cx="1227.7" cy="286.1" r="3.7" fill="#fa5767"/><circle cx="1226.6" cy="300.6" r="3.7" fill="#fa5767"/><circle cx="1230.5" cy="309.0" r="3.7" fill="#fa5767"/><circle cx="1227.7" cy="325.7" r="3.7" fill="#fa5767"/><circle cx="1224.7" cy="351.2" r="3.7" fill="#fa5767"/><circle cx="1225.7" cy="372.2" r="3.7" fill="#fa5767"/><circle cx="1232.1" cy="398.5" r="3.7" fill="#fa5767"/>
<path d="M1240.4 199.9 L1251.0 199.9 C1251.3 200.8 1251.9 202.5 1253.0 205.0 C1254.1 207.5 1255.9 211.7 1257.6 215.0 C1259.3 218.3 1261.3 221.7 1263.0 225.0 C1264.7 228.3 1266.3 231.7 1268.0 235.0 C1269.7 238.3 1271.3 241.7 1273.0 245.0 C1274.7 248.3 1276.6 251.7 1278.0 255.0 C1279.4 258.3 1280.6 261.7 1281.4 265.0 C1282.2 268.3 1282.6 271.7 1282.6 275.0 C1282.6 278.3 1282.3 281.7 1281.6 285.0 C1280.9 288.3 1280.0 291.7 1278.2 295.0 C1276.4 298.3 1273.1 301.7 1271.0 305.0 C1268.9 308.3 1267.3 311.7 1265.6 315.0 C1263.9 318.3 1262.3 321.7 1261.0 325.0 C1259.7 328.3 1258.8 331.7 1258.0 335.0 C1257.2 338.3 1256.6 341.7 1256.0 345.0 C1255.4 348.3 1255.0 351.7 1254.6 355.0 C1254.2 358.3 1253.8 361.7 1253.4 365.0 C1253.0 368.3 1252.8 371.7 1252.4 375.0 C1252.0 378.3 1251.6 381.7 1251.2 385.0 C1250.8 388.3 1250.4 392.7 1250.2 395.0 C1250.0 397.3 1250.0 398.0 1250.0 398.6 L1240.4 398.6 Z" fill="#ffbdc2" stroke="#fa5767" stroke-width="1.6" stroke-linejoin="round"/>
<line x1="1552.2" y1="166.7" x2="1552.2" y2="253.3" stroke="#222" stroke-width="1"/><rect x="1544.4" y="179.2" width="16.3" height="52.1" fill="#12b1d0" stroke="#222" stroke-width="1"/><line x1="1544.4" y1="218.1" x2="1560.7" y2="218.1" stroke="#222" stroke-width="1.2"/>
<circle cx="1574.1" cy="166.9" r="3.0" fill="#17b3d3"/><circle cx="1578.5" cy="166.9" r="3.0" fill="#17b3d3"/><circle cx="1576.0" cy="171.7" r="3.0" fill="#17b3d3"/><circle cx="1568.4" cy="177.0" r="3.0" fill="#17b3d3"/><circle cx="1574.4" cy="182.7" r="3.0" fill="#17b3d3"/><circle cx="1577.1" cy="182.7" r="3.0" fill="#17b3d3"/><circle cx="1569.6" cy="210.6" r="3.0" fill="#17b3d3"/><circle cx="1576.0" cy="216.1" r="3.0" fill="#17b3d3"/><circle cx="1568.9" cy="222.2" r="3.0" fill="#17b3d3"/><circle cx="1576.7" cy="224.1" r="3.0" fill="#17b3d3"/><circle cx="1570.3" cy="229.3" r="3.0" fill="#17b3d3"/><circle cx="1576.4" cy="229.8" r="3.0" fill="#17b3d3"/><circle cx="1576.9" cy="234.1" r="3.0" fill="#17b3d3"/><circle cx="1568.0" cy="239.4" r="3.0" fill="#17b3d3"/><circle cx="1567.1" cy="248.7" r="3.0" fill="#17b3d3"/><circle cx="1575.3" cy="254.0" r="3.0" fill="#17b3d3"/>
<path d="M1588.8 166.6 L1619.8 166.6 C1620.3 167.5 1622.0 169.6 1623.0 171.8 C1624.0 174.1 1625.3 177.3 1626.1 180.1 C1626.9 182.9 1627.2 185.7 1627.8 188.5 C1628.4 191.3 1629.1 194.1 1629.9 196.9 C1630.7 199.7 1631.6 202.5 1632.4 205.3 C1633.2 208.1 1634.3 211.2 1634.9 213.7 C1635.5 216.1 1635.8 218.1 1636.1 220.0 C1636.4 221.9 1636.7 223.5 1636.6 225.2 C1636.5 226.9 1636.2 228.5 1635.5 230.4 C1634.8 232.3 1633.7 234.6 1632.4 236.7 C1631.1 238.8 1629.5 240.9 1627.8 243.0 C1626.1 245.1 1623.9 247.6 1622.5 249.3 C1621.1 251.0 1619.9 252.5 1619.4 253.2 L1588.8 253.2 Z" fill="#99e1ef" stroke="#17b3d3" stroke-width="1.6" stroke-linejoin="round"/>
<line x1="1685.5" y1="177.3" x2="1685.5" y2="398.9" stroke="#222" stroke-width="1"/><rect x="1677.3" y="216.5" width="16.4" height="79.8" fill="#fd5b6b" stroke="#222" stroke-width="1"/><line x1="1677.3" y1="252.1" x2="1693.7" y2="252.1" stroke="#222" stroke-width="1.2"/>
<circle cx="1708.8" cy="176.8" r="3.2" fill="#fa5767"/><circle cx="1712.8" cy="206.1" r="3.2" fill="#fa5767"/><circle cx="1706.3" cy="208.8" r="3.2" fill="#fa5767"/><circle cx="1705.3" cy="215.0" r="3.2" fill="#fa5767"/><circle cx="1705.3" cy="217.9" r="3.2" fill="#fa5767"/><circle cx="1706.1" cy="246.7" r="3.2" fill="#fa5767"/><circle cx="1709.6" cy="248.7" r="3.2" fill="#fa5767"/><circle cx="1712.5" cy="250.9" r="3.2" fill="#fa5767"/><circle cx="1704.1" cy="253.6" r="3.2" fill="#fa5767"/><circle cx="1712.0" cy="257.3" r="3.2" fill="#fa5767"/><circle cx="1708.1" cy="279.4" r="3.2" fill="#fa5767"/><circle cx="1711.3" cy="288.3" r="3.2" fill="#fa5767"/><circle cx="1709.1" cy="304.8" r="3.2" fill="#fa5767"/><circle cx="1702.9" cy="336.2" r="3.2" fill="#fa5767"/><circle cx="1711.0" cy="352.6" r="3.2" fill="#fa5767"/><circle cx="1708.3" cy="398.9" r="3.2" fill="#fa5767"/>
<path d="M1722.2 176.9 L1742.3 176.9 C1742.9 178.0 1744.2 181.0 1745.7 183.7 C1747.2 186.4 1749.4 189.5 1751.4 192.9 C1753.4 196.3 1755.7 200.5 1757.6 204.3 C1759.5 208.1 1761.4 211.9 1762.9 215.7 C1764.4 219.5 1765.8 223.3 1766.7 227.1 C1767.7 230.9 1768.2 235.5 1768.6 238.6 C1769.0 241.7 1769.1 242.4 1769.0 245.4 C1768.9 248.4 1768.8 253.1 1768.1 256.9 C1767.4 260.7 1766.5 264.5 1765.1 268.3 C1763.7 272.1 1761.3 276.6 1759.9 279.7 C1758.5 282.8 1757.5 284.6 1756.5 287.0 C1755.5 289.4 1754.8 291.4 1753.7 294.1 C1752.6 296.8 1751.0 300.2 1749.8 303.3 C1748.6 306.4 1747.4 309.3 1746.4 312.4 C1745.4 315.4 1744.7 318.6 1743.9 321.6 C1743.1 324.7 1742.6 327.3 1741.8 330.7 C1741.0 334.1 1740.0 338.3 1739.3 342.1 C1738.5 345.9 1737.9 349.8 1737.3 353.6 C1736.7 357.4 1736.0 361.2 1735.4 365.0 C1734.8 368.8 1734.3 372.6 1733.8 376.4 C1733.3 380.2 1732.9 384.2 1732.5 387.9 C1732.1 391.6 1731.5 396.6 1731.3 398.4 L1722.2 398.4 Z" fill="#ffbdc2" stroke="#fa5767" stroke-width="1.6" stroke-linejoin="round"/>
<g transform="translate(1008.0,497.0) rotate(-24) scale(1.04,1)"><text x="0.0" y="0.0" font-size="21.5" fill="#262626" stroke="#262626" stroke-width="0.2" text-anchor="start" >recovery</text></g><g transform="translate(1019.7,522.3) rotate(-24) scale(1.04,1)"><text x="0.0" y="0.0" font-size="21.5" fill="#262626" stroke="#262626" stroke-width="0.2" text-anchor="start" >vs awake</text></g>
<g transform="translate(1150.7,494.6) rotate(-24) scale(1.04,1)"><text x="0.0" y="0.0" font-size="21.5" fill="#262626" stroke="#262626" stroke-width="0.2" text-anchor="start" >propofol</text></g><g transform="translate(1160.7,521.0) rotate(-24) scale(1.04,1)"><text x="0.0" y="0.0" font-size="21.5" fill="#262626" stroke="#262626" stroke-width="0.2" text-anchor="start" >vs awake</text></g>
<g transform="translate(1483.5,501.2) rotate(-24) scale(1.04,1)"><text x="0.0" y="0.0" font-size="21.5" fill="#262626" stroke="#262626" stroke-width="0.2" text-anchor="start" >recovery</text></g><g transform="translate(1496.1,526.0) rotate(-24) scale(1.04,1)"><text x="0.0" y="0.0" font-size="21.5" fill="#262626" stroke="#262626" stroke-width="0.2" text-anchor="start" >vs awake</text></g>
<g transform="translate(1628.5,497.0) rotate(-24) scale(1.04,1)"><text x="0.0" y="0.0" font-size="21.5" fill="#262626" stroke="#262626" stroke-width="0.2" text-anchor="start" >propofol</text></g><g transform="translate(1638.7,523.3) rotate(-24) scale(1.04,1)"><text x="0.0" y="0.0" font-size="21.5" fill="#262626" stroke="#262626" stroke-width="0.2" text-anchor="start" >vs awake</text></g>
</svg>
</body></html>
